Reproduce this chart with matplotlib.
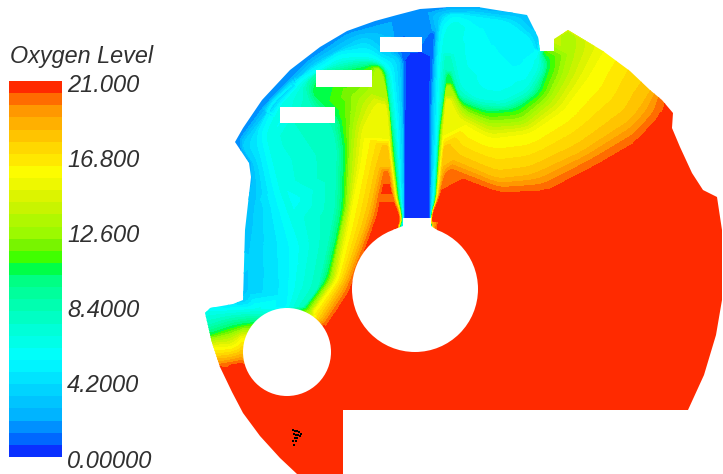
import numpy as np
import matplotlib
matplotlib.use("Agg")
import matplotlib.pyplot as plt
from matplotlib.colors import ListedColormap, BoundaryNorm
from matplotlib.patches import Polygon, Circle, Rectangle
from matplotlib.tri import Triangulation

TITLE = "Oxygen Level"
tick_values = [21.0, 16.8, 12.6, 8.4, 4.2, 0.0]
tick_labels = ["21.000", "16.800", "12.600", "8.4000", "4.2000", "0.00000"]
band_colors = ["#0a30ff", "#0068ff", "#0090ff", "#00b4ff", "#00c4ff", "#00d4ff", "#00e4ff", "#00f4ff",
               "#00fffa", "#00ffe8", "#00ffd8", "#00ffc4", "#00ffb0", "#00ff9c", "#00ff84", "#00ff48",
               "#40ff00", "#78f400", "#9cfa00", "#b0f800", "#c8f400", "#dcf400", "#eef800", "#fcfc00",
               "#ffe800", "#ffd800", "#ffc400", "#ffb000", "#ff9800", "#ff6c00", "#ff2a00"]

# traced iso-level curves, in reference pixel coordinates
iso_203 = [[(664,98),(660,115),(637,140),(597,163),(545,190),(500,192),(447,172),(438.5,200),(432.5,214),(432.5,222)],
           [(399,222),(399,214),(392.5,200),(387,170),(380,200),(377,217),(372,230),(360,262),(348,293),(326,325)],
           [(220,367),(230,365),(242,363)]]
iso_18 = [[(652,85),(630,117),(580,150),(530,173),(497,177),(450,157),(445,143),(441,180),(437.7,200),(432.1,214),(432.1,222)],
          [(400,222),(400,214),(394.5,200),(388,155),(387,143),(378,170),(370,207),(363,230),(345,280),(320,320)],
          [(217,358),(230,357),(242,353)]]
iso_155 = [[(603,50),(587,77),(563,110),(530,133),(490,138),(457,120),(447,97),(443,140),(437,200),(431.9,214),(431.9,222)],
           [(400.5,222),(400.5,214),(396,200),(390,150),(385,103),(378,110),(365,130),(360,167),(352,207),(348,230),(337,280),(313,313)],
           [(213,347),(233,347),(243,337)]]
iso_13 = [[(568,30),(570,50),(563,77),(550,100),(523,123),(490,125),(463,113),(447,83),(441,140),(436.5,200),(431.7,214),(431.7,222)],
          [(401,222),(401,214),(397,200),(391,150),(389,110),(383,78),(377,66),(372,88),(360,100),(354,125),(352,143),(348,207),(342,230),(332,280),(310,312)],
          [(211,340),(230,337),(245,330)]]
iso_105 = [[(543,52),(550,63),(540,93),(517,110),(487,113),(460,103),(448,72),(440,130),(436,200),(431.5,214),(431.5,222)],
           [(401.5,222),(401.5,214),(398,200),(393,150),(388,100),(384,70),(375,64),(366,68),(320,78),(313,93),(325,103),(340,117),(345,150),(343,207),(337,240),(327,280),(305,310)],
           [(210,335),(233,327),(248,324)]]
iso_8 = [[(541,53),(544,70),(530,95),(505,107),(480,105),(458,95),(447,55),(439,130),(435,200),(431.3,214),(431.3,222)],
         [(402,222),(402,214),(399.5,200),(394.5,140),(386,70),(378,63),(360,62),(318,72),(305,85),(310,103),(318,115),(333,128),(337,150),(335,207),(328,245),(318,290),(303,308)],
         [(207,325),(230,318),(252,316)]]
iso_63 = [[(431.1,222),(431.1,214),(434,200),(438,133),(441,67),(445,35),(452,24),(460,22),(455,50),(462,85),(475,97),(500,100),(525,88),(537,68),(540,52)],
          [(402.5,222),(402.5,214),(400.5,200),(396,133),(390,75),(380,62),(365,58),(340,60),(305,80),(280,108),(268,135),(282,190),(303,245),(297,290),(290,308)],
          [(204,313),(225,312),(257,310)]]
iso_5 = [[(430.9,222),(430.9,214),(433,200),(436,133),(438,60),(441,24),(452,13),(475,18),(505,22),(530,40),(533,50)],
         [(403,222),(403,214),(401,200),(398,120),(392,65),(380,58),(368,50),(340,52),(300,78),(272,103),(258,135),(270,190),(283,245),(285,290),(285,308)]]
iso_35 = [[(430.7,222),(430.7,214),(431.5,200),(434,100),(437,40),(441,14),(473,12),(517,18),(536,37),(538,50)],
          [(403.5,222),(403.5,214),(402,130),(399,58),(378,50),(374,42),(363,38),(313,65),(280,97),(250,135),(242,145),(255,165),(258,190),(255,230),(250,263),(250,295),(243,301)]]
iso_2 = [[(430.5,222),(430.5,214),(431,200),(432,100),(436,28),(428,32),(422,38)],
         [(432,12),(397,20),(347,34),(307,62),(265,105),(245,132),(238,143),(250,162)]]
iso_07 = [[(404,222),(404,214),(404,130),(405,60),(400,53),(421,52),(427,40),(433,30),(430,100),(430.3,214),(430.3,222)]]
iso_03 = [[(417,225),(417,56)]]
iso_levels = [20.3, 18, 15.5, 13, 10.5, 8, 6.3, 5, 3.5, 2, 0.7, 0.3]
iso_curves = [iso_203, iso_18, iso_155, iso_13, iso_105, iso_8, iso_63, iso_5, iso_35, iso_2, iso_07, iso_03]

edge_samples = [(450,7,2),(478,7,2),(527,15,3),(538,37,3.5),(554,39,14),(568,30,14.3),(603,50,15.5),(630,70,17),
                (204,313,6),(210,308,5.5),(233,304,4.5),(245,280,3),(245,230,3),(251,177,2.5),
                (190,480,21),(730,480,21),(735,100,21),(640,0,15),(560,0,5),(400,0,1),(190,100,1),(190,300,5),(190,370,21)]
swirl_samples = [(490,50,5.5),(500,80,5.8),(520,60,5.2),(480,30,5.5)]
left_samples = [(280,123,6),(297,123,7.5),(335,123,8.5),(350,95,12),(295,200,5.8),(260,200,4),(287,263,5.2),(263,273,4),(250,263,3.5),(300,263,6.1)]
red_samples = [(600,300,21),(500,300,21),(450,210,21),(660,250,21),(600,220,21),(400,380,21),(300,420,21),(260,410,21),
               (680,170,21),(560,380,21),(350,340,21),(375,225,21),(660,140,21),(520,220,21),(330,400,21),(720,300,21),(345,470,21),(250,370,21),
               (387,190,21),(387,212,21),(392,222,21),(440,222,21),(382,222,21),
               (415,262,21),(415,289,21),(415,320,21),(392,245,21),(438,245,21),(450,235,21),(380,240,21),(470,270,21),(365,300,21)]
speck_x = [293,295,297,299,301,294,296,298,300,295,297,293,296,294]
speck_y = [430,431,431,432,434,434,435,435,436,438,438,441,441,445]

outline_x = [205,212,220,232,243,260,280,297,343,343,688,704,716,722,722,717,703,692,680,672,673,662,650,630,603,568,554,554,540,538,527,478,450,420,397,375,347,320,290,262,243,235,249,251,245,243,233,210]
outline_y = [313,343,367,392,413,436,458,474,474,410,410,375,335,300,230,197,190,173,147,128,113,100,90,71,51,30,39,51,51,37,15,7,7,9,15,21,31,47,70,100,128,142,163,177,230,300,304,308]
rect_x = [380,316,280]
rect_y = [37,70,107]
rect_w = [42,56,55]
rect_h = [15,17,16]


def trace_points(curve, level, step=3.0, window=5):
    xy = np.array(curve, dtype=float)
    s = np.r_[0, np.cumsum(np.hypot(*np.diff(xy, axis=0).T))]
    t = np.arange(0, s[-1] + step, step)
    x, y = np.interp(t, s, xy[:, 0]), np.interp(t, s, xy[:, 1])
    if t.size > window:
        kernel = np.ones(window) / window
        pad = window // 2
        x = np.convolve(np.pad(x, pad, mode="edge"), kernel, mode="valid")
        y = np.convolve(np.pad(y, pad, mode="edge"), kernel, mode="valid")
    return np.column_stack([x, y, np.full(t.size, level)])


fig = plt.figure(figsize=(7.23, 4.74), dpi=100)
ax = fig.add_axes([0, 0, 1, 1])
ax.set_xlim(0, 723); ax.set_ylim(474, 0); ax.axis("off")

levels = np.linspace(0, 21, len(band_colors) + 1)
fill_levels = levels.copy(); fill_levels[-1] = 22
cmap = ListedColormap(band_colors)
norm = BoundaryNorm(fill_levels, cmap.N)

parts = [np.array(edge_samples + swirl_samples + left_samples + red_samples, dtype=float)]
for level, group in zip(iso_levels, iso_curves):
    for curve in group:
        parts.append(trace_points(curve, level))
samples = np.vstack(parts)
_, idx = np.unique(np.round(samples[:, :2], 1), axis=0, return_index=True)
samples = samples[np.sort(idx)]
tri = Triangulation(samples[:, 0], samples[:, 1])
cs = ax.tricontourf(tri, samples[:, 2], levels=fill_levels, cmap=cmap, norm=norm, antialiased=False)
clip = Polygon(np.column_stack([outline_x, outline_y]), closed=True, transform=ax.transData)
cs.set_clip_path(clip)

ax.add_patch(Circle((287, 352), 44, fc="white", ec="none"))
ax.add_patch(Circle((415, 289), 63, fc="white", ec="none"))
ax.add_patch(Polygon([(393,230),(403,226),(403,218),(431,218),(431,226),(437,230)], fc="white", ec="none"))
for x, y, w, h in zip(rect_x, rect_y, rect_w, rect_h):
    ax.add_patch(Rectangle((x, y), w, h, fc="white", ec="none"))
ax.scatter(speck_x, speck_y, s=4, c="black", marker="s", linewidths=0)

# colour bar
bar_y = 457 - (levels / 21.0) * (457 - 81)
ax.pcolormesh([9, 62], bar_y, 0.5 * (levels[:-1] + levels[1:]).reshape(-1, 1), cmap=cmap, norm=norm)

font = dict(family="Liberation Sans", style="italic", color="#303030")
ax.text(10, 56, TITLE, fontsize=16.8, ha="left", va="center", **font)
for v, lab in zip(tick_values, tick_labels):
    y = 461 - v / 21.0 * (461 - 85)
    ax.text(67, y, lab, fontsize=17, ha="left", va="center", **font)

fig.savefig("out.png", dpi=100)
